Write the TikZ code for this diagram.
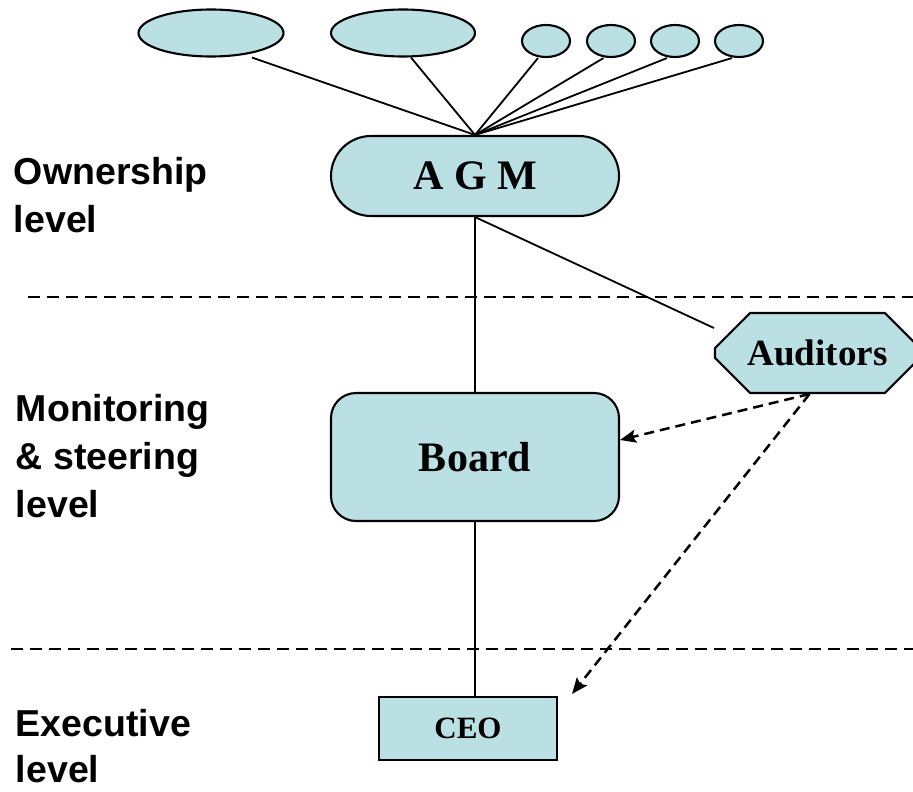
\documentclass[tikz,border=0pt]{standalone}
\usepackage{fontspec}
\setmainfont{Liberation Serif}
\newfontfamily\levelfont{Liberation Sans}
\usepackage{tikz}
\usetikzlibrary{shapes, arrows.meta, calc}
\definecolor{boxfill}{RGB}{187,224,227}

\begin{document}
\begin{tikzpicture}[x=1pt, y=-1pt, line width=1.8pt,
    box/.style={draw, fill=boxfill, line width=2.1pt, inner sep=0pt},
    owner/.style={box, ellipse},
    lvl/.style={anchor=north west, align=left, inner sep=0pt, font=\levelfont\fontsize{37.5}{48}\selectfont\bfseries},
    sep/.style={dash pattern=on 12pt off 7pt, line width=2.5pt},
    audit/.style={dash pattern=on 10pt off 6pt, line width=2.5pt, -{Stealth[length=16pt, width=13pt, inset=3pt]}}]
    \useasboundingbox (0,0) rectangle (913,792);
    % owners on top
    \node[owner, minimum width=145pt, minimum height=47pt] (own1) at (211,33) {};
    \node[owner, minimum width=144pt, minimum height=47pt] (own2) at (403,33) {};
    \foreach \x [count=\i from 3] in {546,611,675,739} \node[owner, minimum width=48pt, minimum height=32pt] (own\i) at (\x,41) {};
    % bodies
    \node[box, rounded rectangle, minimum width=288pt, minimum height=80pt, font=\fontsize{42}{42}\selectfont\bfseries] (agm) at (475,176) {A G M};
    \node[box, rounded corners=25pt, minimum width=288pt, minimum height=128pt, font=\fontsize{42}{42}\selectfont\bfseries] (board) at (475,457) {Board};
    \node[box, minimum width=178pt, minimum height=63pt, font=\fontsize{31}{31}\selectfont\bfseries] (ceo) at (468,728.5) {CEO};
    \node[box, chamfered rectangle, chamfered rectangle xsep=22pt, chamfered rectangle ysep=22pt, minimum width=205pt, minimum height=80pt, font=\fontsize{37}{37}\selectfont\bfseries] (aud) at (817.5,353) {Auditors};
    % connectors
    \draw ([xshift=41pt]own1.south) -- (agm.north);
    \foreach \n/\s in {2/8,3/-8,4/-7.5,5/-8,6/-7} \draw ([xshift=\s pt]own\n.south) -- (agm.north);
    \draw (agm.south) -- (board.north) (board.south) -- (board.south |- ceo.north) (agm.south) -- ([yshift=25pt]aud.west);
    \draw[audit] ([xshift=-8pt]aud.south) -- ([yshift=17pt]board.east);
    \draw[audit] ([xshift=-8pt]aud.south) -- ([xshift=14pt, yshift=2pt]ceo.north east);
    % levels
    \draw[sep] (28,297) -- (913,297);
    \draw[sep] (11,649) -- (913,649);
    \node[lvl] (ownlvl) at (13,156) {Ownership\\level};
    \node[lvl] (monlvl) at (15,393) {Monitoring\\\& steering\\level};
    \node[lvl, font=\levelfont\fontsize{37.5}{46}\selectfont\bfseries] (exelvl) at (15,708) {Executive\\level};
\end{tikzpicture}
\end{document}
